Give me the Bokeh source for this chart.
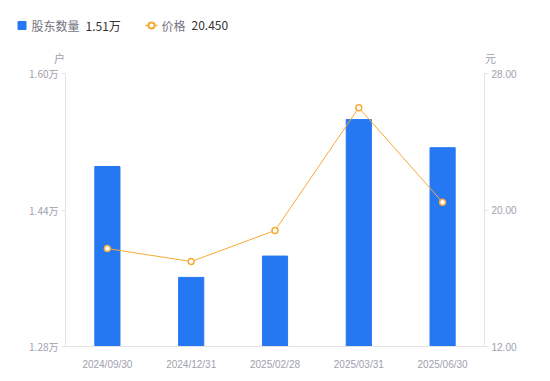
from bokeh.plotting import figure
from bokeh.layouts import column
from bokeh.models import FactorRange, Range1d, LinearAxis, FixedTicker, ColumnDataSource
from bokeh.core.properties import value
from bokeh.embed import file_html
from bokeh.resources import INLINE

dates = ["2024/09/30", "2024/12/31", "2025/02/28", "2025/03/31", "2025/06/30"]
holders = [1.491, 1.361, 1.386, 1.546, 1.513]   # 万户
prices = [17.74, 16.98, 18.80, 26.00, 20.45]    # 元
left_ticks = [1.28, 1.44, 1.60]
right_ticks = [12.0, 20.0, 28.0]
legend_names = ["股东数量", "价格"]
legend_values = ["1.51万", "20.450"]
units = ["户", "元"]

BLUE = "#2577f2"
ORANGE = "#f7ab35"
TICK = "#a0a0ae"
AXIS = "#e3e3e6"
CJK = "Noto Sans CJK SC"

W = 542
HH = 64          # header height
H = 373 - HH     # main figure height

# ---------- header (legend + unit labels) ----------
hd = figure(width=W, height=HH, x_range=Range1d(0, W), y_range=Range1d(HH, 0),
            output_backend="svg", toolbar_location=None,
            min_border=0, min_border_left=0, min_border_right=0, min_border_top=0, min_border_bottom=0)
hd.frame_align = False
hd.axis.visible = False
hd.grid.visible = False
hd.outline_line_color = None

hd.rect(x=[21.5], y=[25], width=9, height=9, fill_color=BLUE, line_color=None, border_radius=1)
hd.line(x=[145, 157], y=[25, 25], line_color=ORANGE, line_width=1.5)
hd.scatter(x=[151], y=[25], size=6, fill_color="white", line_color=ORANGE, line_width=2)
hd.text(x=[31, 161], y=[25, 25], text=legend_names, text_color="#74747e",
        text_font=value(CJK), text_font_size="12px", text_baseline="middle")
hd.text(x=[85, 191], y=[25, 25], text=legend_values, text_color="#333333",
        text_font=value(CJK), text_font_size="12px", text_baseline="middle")
hd.text(x=[59, 490], y=[57, 57], text=units, text_color=TICK,
        text_font=value(CJK), text_font_size="11px", text_baseline="middle", text_align="center")

# ---------- main chart ----------
p = figure(x_range=FactorRange(*dates), y_range=Range1d(1.28, 1.60),
           width=W, height=H, output_backend="svg", toolbar_location=None,
           min_border_left=65, min_border_right=58, min_border_top=73 - HH, min_border_bottom=27)
p.frame_align = False
p.extra_y_ranges = {"price": Range1d(12, 28)}
p.outline_line_color = None
p.xgrid.visible = False
p.ygrid.visible = False

src = ColumnDataSource(dict(d=dates, h=holders, pr=prices))
p.vbar(x="d", top="h", bottom=1.28, width=0.3, source=src, color=BLUE)
p.line(x="d", y="pr", source=src, y_range_name="price", line_color=ORANGE, line_width=1)
p.scatter(x="d", y="pr", source=src, y_range_name="price", size=6,
          fill_color="white", line_color=ORANGE, line_width=1.5)

ya = p.yaxis[0]
ya.ticker = FixedTicker(ticks=left_ticks)
ya.major_label_overrides = {t: f"{t:.2f}万" for t in left_ticks}
ya.axis_line_color = AXIS
ya.major_tick_line_color = AXIS
ya.major_tick_in = 0
ya.major_tick_out = 4
ya.minor_tick_line_color = None
ya.major_label_text_color = TICK
ya.major_label_text_font = CJK
ya.major_label_text_font_size = "10px"
ya.major_label_standoff = 3

ra = LinearAxis(y_range_name="price", ticker=FixedTicker(ticks=right_ticks))
ra.major_label_overrides = {t: f"{t:.2f}" for t in right_ticks}
ra.axis_line_color = AXIS
ra.major_tick_line_color = AXIS
ra.major_tick_in = 0
ra.major_tick_out = 4
ra.minor_tick_line_color = None
ra.major_label_text_color = TICK
ra.major_label_text_font = "Liberation Sans"
ra.major_label_text_font_size = "10px"
ra.major_label_standoff = 3
p.add_layout(ra, "right")

xa = p.xaxis[0]
xa.axis_line_color = AXIS
xa.major_tick_line_color = None
xa.minor_tick_line_color = None
xa.major_label_text_color = TICK
xa.major_label_text_font = "Liberation Sans"
xa.major_label_text_font_size = "10px"
xa.major_label_standoff = 6

layout = column(hd, p, spacing=0)
out = file_html(layout, INLINE)
open("out.html", "w").write(out)
